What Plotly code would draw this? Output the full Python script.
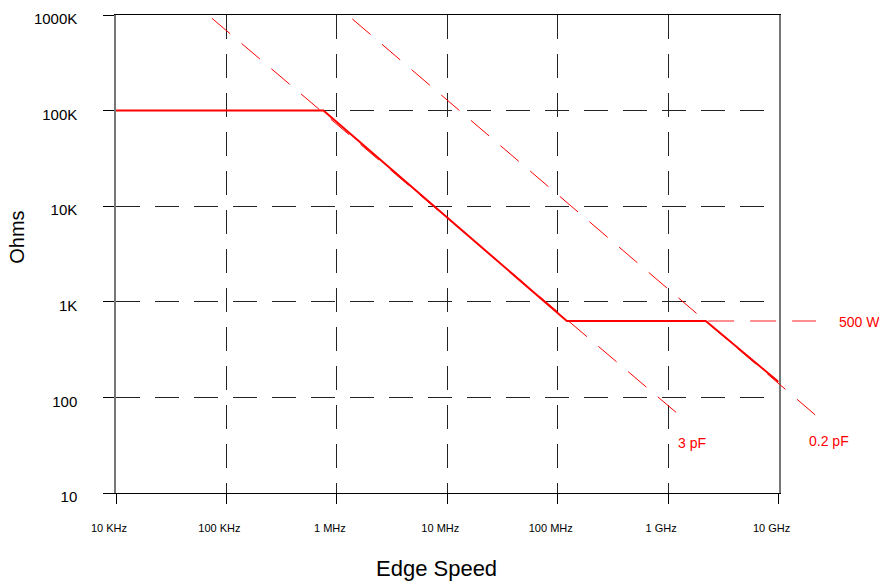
import plotly.graph_objects as go

# ---- data ----
freq_ticks = [1e4, 1e5, 1e6, 1e7, 1e8, 1e9, 1e10]
freq_labels = ["10 KHz", "100 KHz", "1 MHz", "10 MHz", "100 MHz", "1 GHz", "10 GHz"]
ohm_ticks = [10, 100, 1e3, 1e4, 1e5, 1e6]
ohm_labels = ["10", "100", "1K", "10K", "100K", "1000K"]

# solid impedance curve
solid_f = [1e4, 7.55e5, 1.21e8, 2.19e9, 1e10]
solid_z = [1e5, 1e5, 631, 631, 145]

# 3 pF asymptote (dashed)
cap3_f = [7.38e4, 1.33e9]
cap3_z = [9.25e5, 62]

# 0.2 pF asymptote (dashed)
cap02_f = [1.38e6, 2.42e10]
cap02_z = [9.09e5, 58.3]

# 500 W level (dashed)
lvl_f = [2.3e9, 2.18e10]
lvl_z = [631, 631]

FONT = "Arial, Liberation Sans, sans-serif"

# geometry
W, H = 879, 587
ML, MT = 115.8, 10
plot_right_main = 778.6
plot_right_ext = 850
plot_bottom = 493.3
area_w = plot_right_ext - ML
area_h = plot_bottom - MT
main_frac = (plot_right_main - ML) / area_w
decades_x = 6
ext_max = 4 + decades_x / main_frac

fig = go.Figure()

fig.add_trace(go.Scatter(x=cap3_f, y=cap3_z, mode="lines",
                         line=dict(color="#ff0000", width=1, dash="24px,15px"),
                         xaxis="x", yaxis="y", showlegend=False, hoverinfo="skip"))
fig.add_trace(go.Scatter(x=solid_f, y=solid_z, mode="lines",
                         line=dict(color="#ff0000", width=2),
                         xaxis="x", yaxis="y", showlegend=False))
fig.add_trace(go.Scatter(x=cap02_f, y=cap02_z, mode="lines",
                         line=dict(color="#ff0000", width=1, dash="24px,15px"),
                         xaxis="x2", yaxis="y2", showlegend=False, hoverinfo="skip"))
fig.add_trace(go.Scatter(x=lvl_f, y=lvl_z, mode="lines",
                         line=dict(color="#ff6a6a", width=1.5, dash="26px,16px"),
                         xaxis="x2", yaxis="y2", showlegend=False, hoverinfo="skip"))

grid_common = dict(showgrid=True, gridcolor="#222222", gridwidth=1, griddash="24px,15px")

fig.update_layout(
    width=W, height=H,
    margin=dict(l=ML, r=W - plot_right_ext, t=MT, b=H - plot_bottom, pad=0),
    paper_bgcolor="white",
    plot_bgcolor="rgba(0,0,0,0)",
    font=dict(family=FONT, color="black"),
    xaxis=dict(type="log", range=[4, 10], domain=[0, main_frac], anchor="y",
               tickvals=freq_ticks, ticktext=freq_labels,
               ticks="outside", ticklen=10, tickcolor="black", tickwidth=1,
               showline=True, linecolor="black", linewidth=1, mirror=True,
               tickfont=dict(size=11, family=FONT, color="black"),
               ticklabelstandoff=15, ticklabelshift=-7,
               ticklabeloverflow="allow",
               zeroline=False, **grid_common),
    xaxis2=dict(type="log", range=[4, ext_max], domain=[0, 1], anchor="y2",
                visible=False, showgrid=False, zeroline=False),
    yaxis=dict(type="log", range=[1, 6], domain=[0, 1], anchor="x",
               tickvals=ohm_ticks, ticktext=ohm_labels,
               ticks="outside", ticklen=11, tickcolor="black", tickwidth=1,
               showline=True, linecolor="#777777", linewidth=1.5, mirror=True,
               tickfont=dict(size=15, family=FONT, color="black"),
               ticklabelstandoff=23, ticklabelshift=4,
               ticklabeloverflow="allow",
               zeroline=False, **grid_common),
    yaxis2=dict(type="log", range=[1, 6], domain=[0, 1], anchor="x2",
                visible=False, showgrid=False, zeroline=False),
    annotations=[
        dict(text="Ohms", xref="paper", yref="paper",
             x=(16 - ML) / area_w, y=(plot_bottom - 235) / area_h,
             textangle=-90, showarrow=False, xanchor="center", yanchor="middle",
             font=dict(size=20, family=FONT, color="black")),
        dict(text="Edge Speed", xref="paper", yref="paper",
             x=(436 - ML) / area_w, y=(plot_bottom - 570) / area_h,
             showarrow=False, xanchor="center", yanchor="middle",
             font=dict(size=22, family=FONT, color="black")),
        dict(text="3 pF", xref="x", yref="y", x=9.216, y=1.520,
             showarrow=False, xanchor="center", yanchor="middle",
             font=dict(size=14, family=FONT, color="#ff0000")),
        dict(text="0.2 pF", xref="x2", yref="y2", x=10.454, y=1.541,
             showarrow=False, xanchor="center", yanchor="middle",
             font=dict(size=14, family=FONT, color="#ff0000")),
        dict(text="500 W", xref="x2", yref="y2", x=10.526, y=2.786,
             showarrow=False, xanchor="left", yanchor="middle",
             font=dict(size=14, family=FONT, color="#ff0000")),
    ],
)

fig.write_html("out.html", config={"displayModeBar": False},
               post_script="document.body.style.margin='0';")
